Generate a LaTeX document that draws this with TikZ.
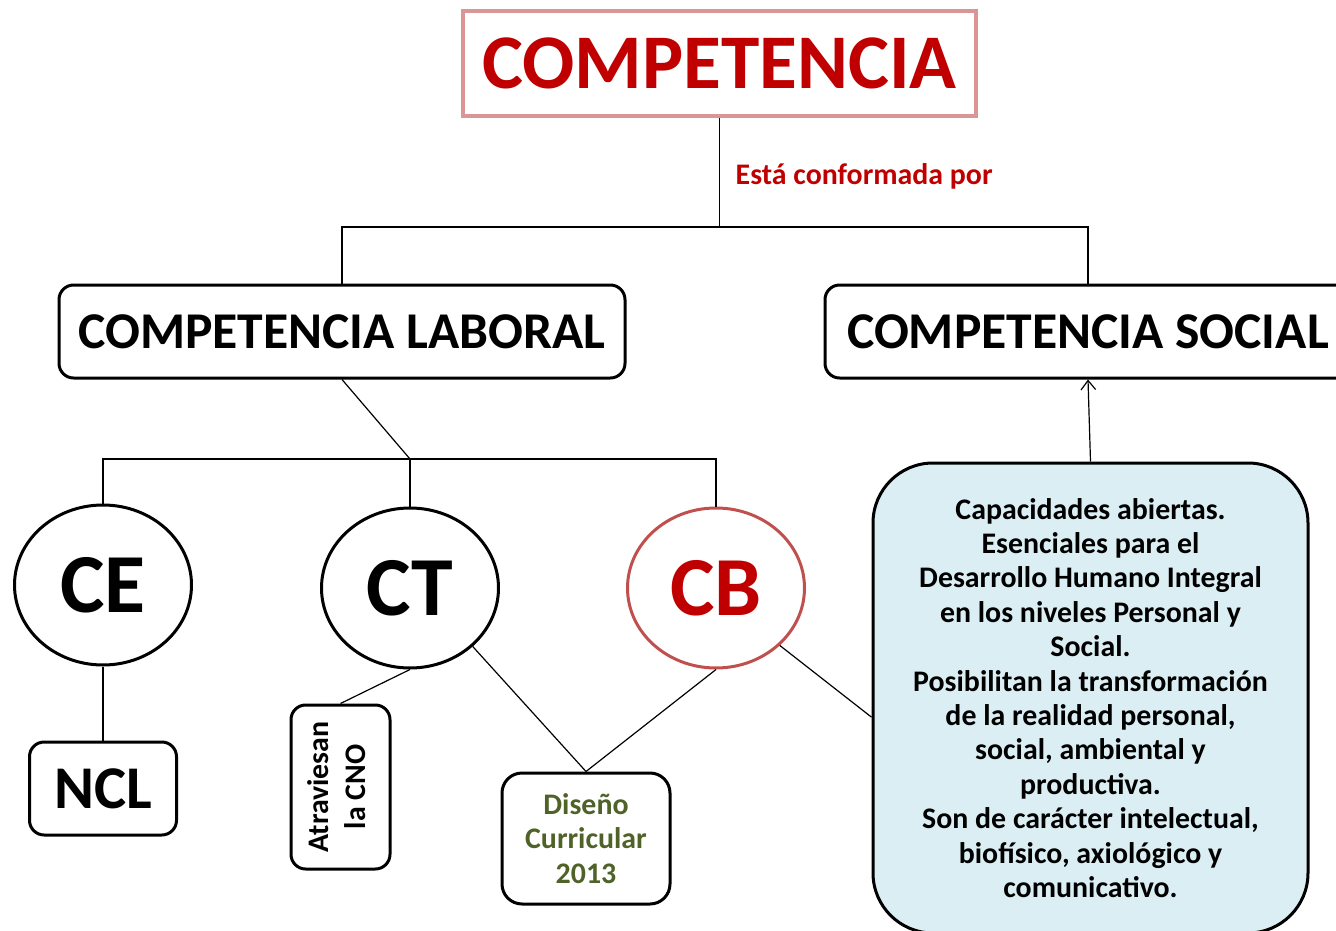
\documentclass[tikz,border=0pt]{standalone}
\usepackage{fontspec}
\setmainfont{Carlito}
\usetikzlibrary{arrows.meta,shapes.geometric}

\definecolor{compred}{HTML}{C00000}
\definecolor{comppink}{HTML}{D99694}
\definecolor{cbred}{HTML}{C0504D}
\definecolor{disgreen}{HTML}{4F6228}
\definecolor{infoblue}{HTML}{DAEEF3}

\begin{document}
\begin{tikzpicture}[x=0.75pt, y=-0.75pt,
        box/.style={draw, line width=2.25pt, rounded corners=11pt, align=center, inner sep=2pt},
        circ/.style={draw, ellipse, line width=2.25pt, minimum width=132.75pt, minimum height=120pt,
                     inner sep=0pt, font=\fontsize{63}{66}\selectfont\bfseries},
        conn/.style={line width=0.9pt},
        small/.style={font=\fontsize{22.4}{25.8}\selectfont\bfseries}]
        \useasboundingbox (0,0) rectangle (1336,931);

        % top of the tree
        \node[draw=comppink, line width=2.6pt, minimum width=384.75pt, minimum height=78.75pt,
              text=compred, font=\fontsize{58}{62}\selectfont\bfseries] (comp) at (719.5,63.5) {COMPETENCIA};
        \node[anchor=west, text=compred, font=\fontsize{22.4}{26}\selectfont\bfseries] (lbl) at (731,176) {Está conformada por};

        \node[box, minimum width=424.5pt, minimum height=69.75pt, font=\fontsize{38.7}{42}\selectfont\bfseries] (lab) at (342,331.5) {COMPETENCIA LABORAL};
        \node[box, minimum width=394.5pt, minimum height=69.75pt, font=\fontsize{38.7}{42}\selectfont\bfseries] (soc) at (1088,331.5) {COMPETENCIA SOCIAL};

        % the three kinds
        \node[circ] (ce) at (103,585) {CE\hspace{8pt}};
        \node[circ] (ct) at (410,588) {CT};
        \node[circ, draw=cbred, text=compred] (cb) at (716,588) {CB};

        \node[box, minimum width=110.25pt, minimum height=69.75pt, font=\fontsize{45.5}{48}\selectfont\bfseries] (ncl) at (103,788.5) {NCL};
        \node[box, small, minimum width=74.25pt, minimum height=123pt] (atr) at (340.5,787)
              {\rotatebox{90}{\begin{tabular}{@{}c@{}}Atraviesan\\[2pt]la CNO\end{tabular}}};
        \node[box, small, rounded corners=15pt, text=disgreen, minimum width=126pt, minimum height=98.25pt] (dis) at (586,838.5)
              {Diseño\\Curricular\\2013};
        \node[box, small, fill=infoblue, rounded corners=45pt, minimum width=326.25pt, minimum height=352.5pt] (info) at (1090.5,698)
              {Capacidades abiertas.\\Esenciales para el\\Desarrollo Humano Integral\\en los niveles Personal y\\Social.\\
               Posibilitan la transformación\\de la realidad personal,\\social, ambiental y\\productiva.\\
               Son de carácter intelectual,\\biofísico, axiológico y\\comunicativo.};

        \coordinate (j1) at (comp.south |- 0,227);
        \coordinate (j2) at (410,459);

        \draw[conn] (comp.south) -- (j1);
        \draw[conn] (lab.north) |- (j1) -| (soc.north);
        \draw[conn] (lab.south) -- (j2);
        \draw[conn] (ce.north) |- (j2) -| (cb.north);
        \draw[conn] (j2) -- (ct.north);

        \draw[conn] (ce.south) -- (ncl.north);
        \draw[conn] (ct.south) -- (atr.north);
        \draw[conn] (ct.-43) -- (dis.north);
        \draw[conn] (cb.south) -- (dis.north);
        \draw[conn] (cb.-42) -- (info.185);
        \draw[conn, -{Straight Barb[length=7pt, width=11pt]}] (info.north) -- (soc.south);
\end{tikzpicture}
\end{document}
